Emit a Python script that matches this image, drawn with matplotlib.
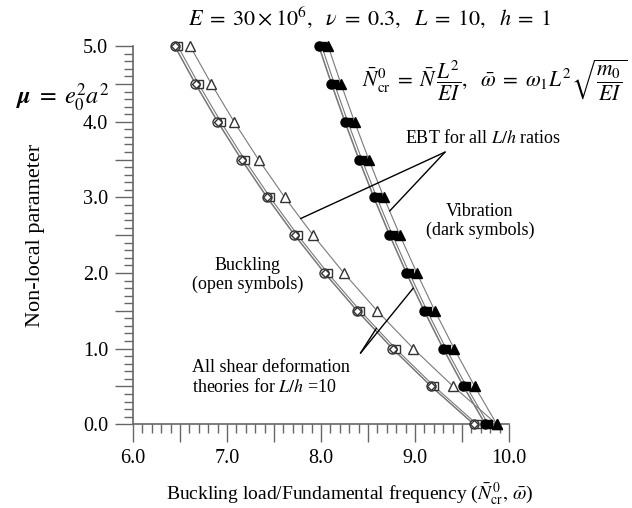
import numpy as np
import matplotlib
matplotlib.use("Agg")
import matplotlib.pyplot as plt
from matplotlib.ticker import MultipleLocator

plt.rcParams['font.family'] = ['Liberation Serif', 'DejaVu Serif']
plt.rcParams['mathtext.fontset'] = 'stix'

# non-local parameter
mu = [0.0, 0.5, 1.0, 1.5, 2.0, 2.5, 3.0, 3.5, 4.0, 4.5, 5.0]

# buckling loads (open symbols)
buck_ebt = [9.870, 9.406, 8.983, 8.597, 8.243, 7.916, 7.615, 7.336, 7.076, 6.834, 6.609]
buck_tbt = [9.623, 9.170, 8.758, 8.382, 8.036, 7.718, 7.424, 7.152, 6.899, 6.663, 6.443]
buck_rbt = [9.658, 9.205, 8.793, 8.417, 8.071, 7.753, 7.459, 7.187, 6.934, 6.698, 6.478]
buck_lbt = [9.628, 9.175, 8.763, 8.387, 8.041, 7.723, 7.429, 7.157, 6.904, 6.668, 6.448]

# fundamental frequencies (dark symbols)
vib_ebt = [9.870, 9.635, 9.416, 9.211, 9.020, 8.839, 8.669, 8.509, 8.357, 8.213, 8.076]
vib_tbt = [9.745, 9.514, 9.297, 9.095, 8.906, 8.728, 8.560, 8.402, 8.252, 8.110, 7.975]
vib_rbt = [9.778, 9.547, 9.330, 9.128, 8.939, 8.761, 8.593, 8.435, 8.285, 8.143, 8.008]
vib_lbt = [9.750, 9.519, 9.302, 9.100, 8.911, 8.733, 8.565, 8.407, 8.257, 8.115, 7.980]

fig = plt.figure(figsize=(6.32, 5.08), dpi=100)
ax = fig.add_axes([0.2104, 0.165, 0.595, 0.744])

line_c = '#7a7a7a'
edge_c = '#333333'

for vals in [buck_tbt, buck_rbt, buck_lbt, buck_ebt, vib_tbt, vib_rbt, vib_lbt, vib_ebt]:
    ax.plot(vals, mu, color=line_c, lw=0.8, zorder=1)

ms = 6.5
ax.plot(buck_ebt, mu, ls='none', marker='^', ms=ms, mfc='white', mec=edge_c, mew=1.0, zorder=3)
ax.plot(buck_rbt, mu, ls='none', marker='s', ms=ms - 0.5, mfc='white', mec=edge_c, mew=1.0, zorder=3)
ax.plot(buck_tbt, mu, ls='none', marker='o', ms=ms, mfc='white', mec=edge_c, mew=1.0, zorder=4)
ax.plot(buck_lbt, mu, ls='none', marker='D', ms=ms - 2.5, mfc='white', mec=edge_c, mew=1.0, zorder=5)

ax.plot(vib_ebt, mu, ls='none', marker='^', ms=ms, mfc='black', mec='black', zorder=3)
ax.plot(vib_rbt, mu, ls='none', marker='s', ms=ms - 0.5, mfc='black', mec='black', zorder=3)
ax.plot(vib_tbt, mu, ls='none', marker='o', ms=ms, mfc='black', mec='black', zorder=4)
ax.plot(vib_lbt, mu, ls='none', marker='D', ms=ms - 2.5, mfc='black', mec='black', zorder=5)

ax.set_xlim(6.0, 10.0)
ax.set_ylim(0.0, 5.0)
for s in ['top', 'right']:
    ax.spines[s].set_visible(False)
for s in ['left', 'bottom']:
    ax.spines[s].set_color('#666666')
    ax.spines[s].set_linewidth(1.2)
for ln in ax.lines:
    ln.set_clip_on(False)

ax.xaxis.set_major_locator(MultipleLocator(0.5))
ax.xaxis.set_minor_locator(MultipleLocator(0.1))
ax.yaxis.set_major_locator(MultipleLocator(0.5))
ax.yaxis.set_minor_locator(MultipleLocator(0.1))


def lab(v, pos):
    return '%.1f' % v if abs(v - round(v)) < 1e-6 else ''


ax.xaxis.set_major_formatter(plt.FuncFormatter(lab))
ax.yaxis.set_major_formatter(plt.FuncFormatter(lab))
ax.tick_params(which='major', direction='out', length=13, width=1.0, color='#666666',
               labelsize=14.5, pad=5)
ax.tick_params(which='minor', direction='out', length=6.5, width=1.0, color='#666666')

ax.set_xlabel(r'Buckling load/Fundamental frequency ($\bar{N}^{\,0}_{\rm cr},\,\bar{\omega}$)', fontsize=14)
ax.xaxis.set_label_coords(0.575, -0.15)
ax.set_ylabel('Non-local parameter', fontsize=16)
ax.yaxis.set_label_coords(-0.235, 0.5)

fig.text(0.025, 1 - 98 / 508, r'$\boldsymbol{\mu}\;=\;e_0^2 a^2$', fontsize=17.5, ha='left', va='center')
fig.text(0.585, 1 - 17 / 508, r'$E\;=\;30\times10^6,\ \ \nu\;=\;0.3,\ \ L\;=\;10,\ \ h\;=\;1$',
         fontsize=16, ha='center', va='center')
fig.text(0.783, 1 - 80 / 508,
         r'$\bar{N}^0_{\rm cr}\;=\;\bar{N}\,\dfrac{L^2}{EI},\ \ \bar{\omega}\;=\;\omega_1 L^2\sqrt{\dfrac{m_0}{EI}}$',
         fontsize=15.5, ha='center', va='center')

ax.text(9.72, 3.78, r'EBT for all $L/h$ ratios', fontsize=13, ha='center', va='center')
ax.text(9.69, 2.69, 'Vibration\n(dark symbols)', fontsize=13, ha='center', va='center',
        linespacing=1.1)
ax.text(7.22, 1.97, 'Buckling\n(open symbols)', fontsize=13, ha='center', va='center',
        linespacing=1.1)
ax.text(6.63, 0.62, 'All shear deformation\ntheories for $L/h$ =10', fontsize=13,
        ha='left', va='center', linespacing=1.1)

# leader lines to curves
src1 = (9.32, 3.60)
for series, m in [(buck_ebt, 2.72), (vib_ebt, 2.82)]:
    xm = np.interp(m, mu, series)
    ax.annotate('', xy=(xm, m), xytext=src1,
                arrowprops=dict(arrowstyle='-', color='black', lw=1.0, shrinkA=0, shrinkB=0))
src2 = (8.42, 0.94)
for series, m in [(buck_rbt, 1.27), (vib_tbt, 1.80)]:
    xm = np.interp(m, mu, series)
    ax.annotate('', xy=(xm, m), xytext=src2,
                arrowprops=dict(arrowstyle='-', color='black', lw=1.0, shrinkA=0, shrinkB=0))

fig.savefig('out.png', dpi=100)
